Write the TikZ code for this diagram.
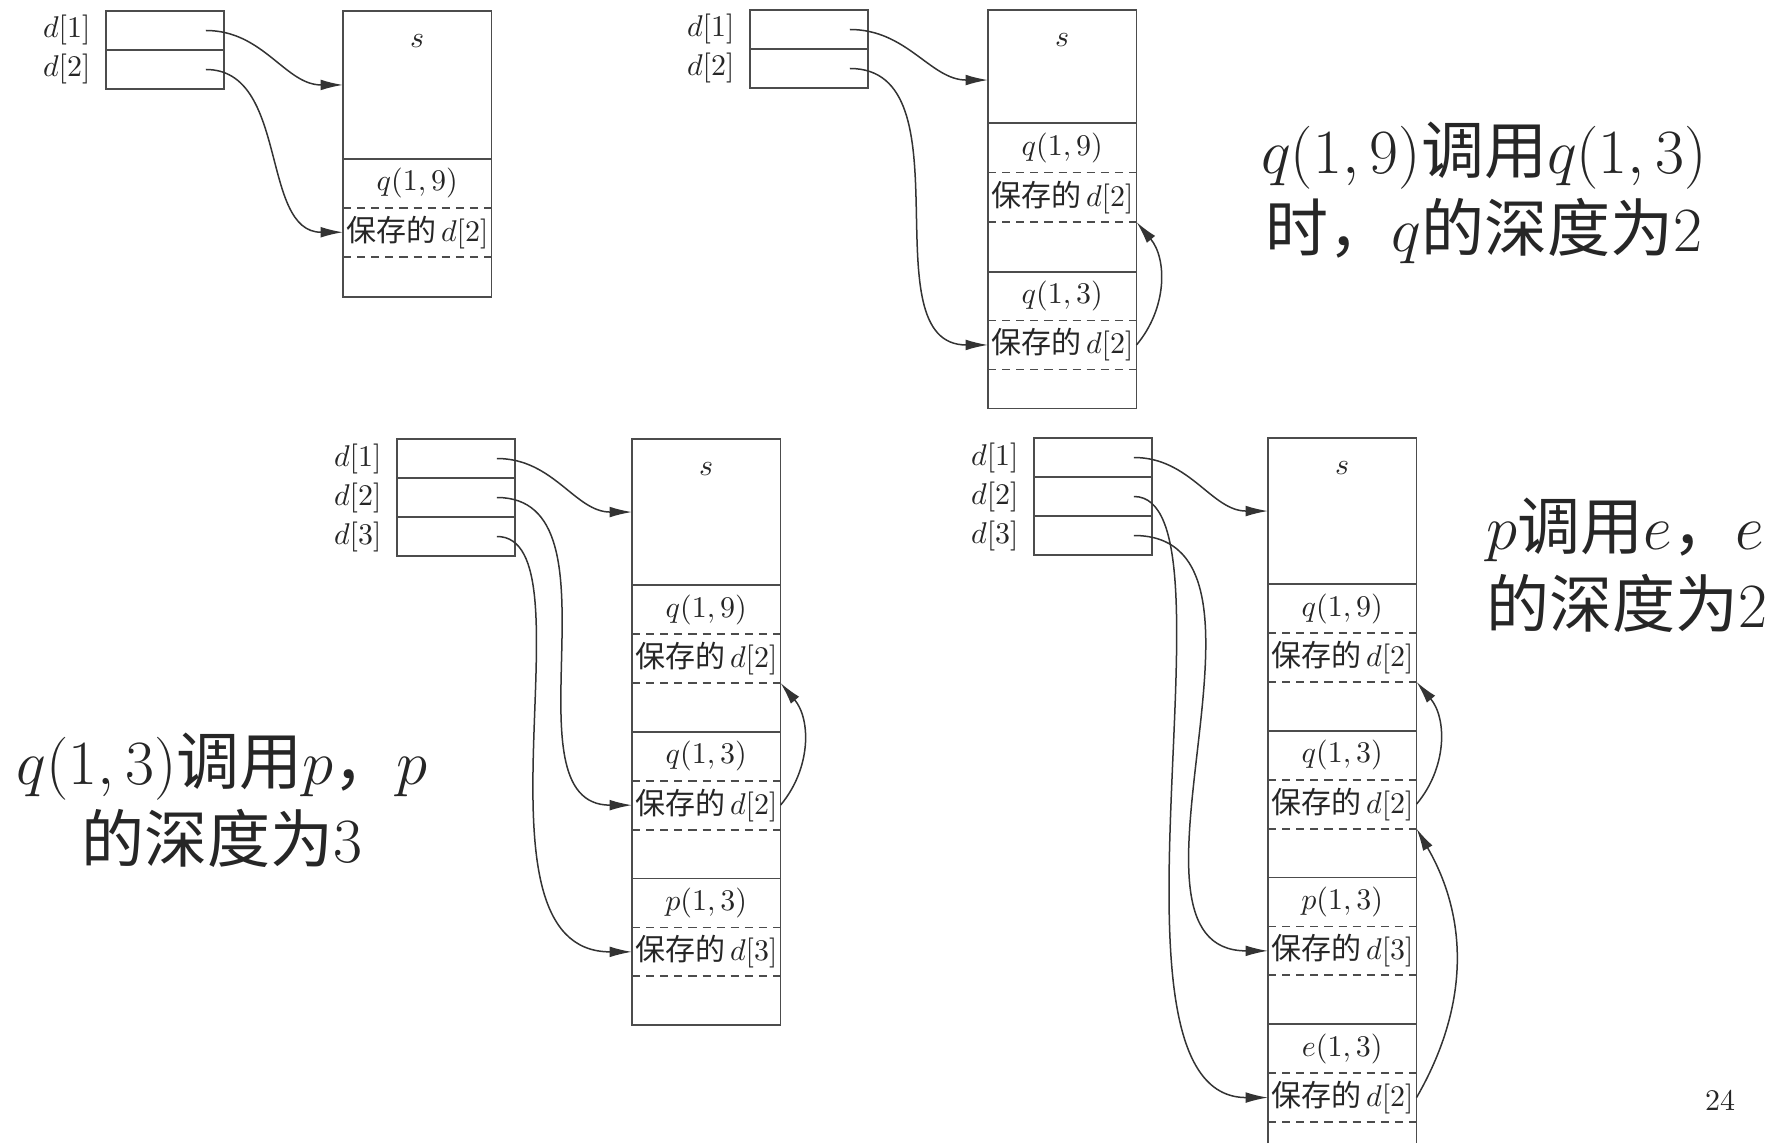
\RequirePackage{fix-cm}
\documentclass[tikz,border=0pt]{standalone}
\usepackage{fontspec}
\newfontfamily\cjk{Noto Sans CJK SC}
\usetikzlibrary{arrows.meta,positioning}

\begin{document}
\begin{tikzpicture}[
  x=0.333333pt, y=-0.333333pt,
  dcell/.style={draw=black!70, line width=0.6pt, minimum width=39.3pt, minimum height=13pt, inner sep=0pt, outer sep=0pt},
  dlab/.style={inner sep=0pt, text=black!85},
  cell/.style={minimum width=49.5pt, minimum height=16.3pt, inner sep=0pt, outer sep=0pt, text=black!85},
  sreg/.style={cell, minimum height=48.7pt, label={[anchor=north, inner sep=0pt, yshift=-7.5pt, text=black!85]north:$s$}},
  rule/.style={draw=black!70, line width=0.6pt},
  sep/.style={draw=black!70, line width=0.6pt, dash pattern=on 2.7pt off 2pt},
  arr/.style={-{Latex[length=7.5pt,width=3.6pt]}, draw=black!80, line width=0.5pt},
  note/.style={font=\fontsize{21}{26}\selectfont, text=black!85, inner sep=0pt}
]
\useasboundingbox (0,0) rectangle (1788,1144);

% first picture: only q(1,9)
\node[dcell, anchor=north west] (a-d1) at (106,11) {};
\node[dcell, below=0pt of a-d1] (a-d2) {};
\node[dlab, left=5pt of a-d1] (a-l1) {$d[1]$};
\node[dlab, left=5pt of a-d2] (a-l2) {$d[2]$};
\node[sreg, minimum height=49.3pt, anchor=north west] (a-s) at (343,11) {};
\node[cell, below=0pt of a-s] (a-q19) {$q(1,9)$};
\node[cell, below=0pt of a-q19] (a-q19-sv) {{\cjk 保存的}\,$d[2]$};
\node[cell, minimum height=13.3pt, below=0pt of a-q19-sv] (a-q19-bl) {};
\draw[rule] (a-s.north west) rectangle (a-q19-bl.south east);
\draw[rule] (a-q19.north west) -- (a-q19.north east);
\draw[sep] (a-q19-sv.north west) -- (a-q19-sv.north east) (a-q19-sv.south west) -- (a-q19-sv.south east);
\draw[arr] ([xshift=-6pt]a-d1.east) to[out=0,in=180] (a-s.west);
\draw[arr] ([xshift=-6pt]a-d2.east) to[out=0,in=180] (a-q19-sv.west);

% second picture: q(1,9) calls q(1,3)
\node[dcell, anchor=north west] (b-d1) at (750,10) {};
\node[dcell, below=0pt of b-d1] (b-d2) {};
\node[dlab, left=5pt of b-d1] (b-l1) {$d[1]$};
\node[dlab, left=5pt of b-d2] (b-l2) {$d[2]$};
\node[sreg, minimum height=37.7pt, anchor=north west] (b-s) at (988,10) {};
\node[cell, minimum height=16.5pt, below=0pt of b-s] (b-q19) {$q(1,9)$};
\node[cell, minimum height=16.5pt, below=0pt of b-q19] (b-q19-sv) {{\cjk 保存的}\,$d[2]$};
\node[cell, minimum height=16.5pt, below=0pt of b-q19-sv] (b-q19-bl) {};
\node[cell, below=0pt of b-q19-bl] (b-q13) {$q(1,3)$};
\node[cell, below=0pt of b-q13] (b-q13-sv) {{\cjk 保存的}\,$d[2]$};
\node[cell, minimum height=13pt, below=0pt of b-q13-sv] (b-q13-bl) {};
\draw[rule] (b-s.north west) rectangle (b-q13-bl.south east);
\draw[rule] (b-q19.north west) -- (b-q19.north east);
\draw[rule] (b-q13.north west) -- (b-q13.north east);
\draw[sep] (b-q19-sv.north west) -- (b-q19-sv.north east) (b-q19-sv.south west) -- (b-q19-sv.south east);
\draw[sep] (b-q13-sv.north west) -- (b-q13-sv.north east) (b-q13-sv.south west) -- (b-q13-sv.south east);
\draw[arr] ([xshift=-6pt]b-d1.east) to[out=0,in=180] ([yshift=-4.5pt]b-s.west);
\draw[arr] ([xshift=-6pt]b-d2.east) to[out=0,in=180] (b-q13-sv.west);
\draw[arr] (b-q13-sv.east) to[out=50,in=-50] (b-q19-sv.south east);

% third picture: q(1,3) calls p(1,3)
\node[dcell, anchor=north west] (c-d1) at (397,439) {};
\node[dcell, below=0pt of c-d1] (c-d2) {};
\node[dcell, below=0pt of c-d2] (c-d3) {};
\node[dlab, left=5pt of c-d1] (c-l1) {$d[1]$};
\node[dlab, left=5pt of c-d2] (c-l2) {$d[2]$};
\node[dlab, left=5pt of c-d3] (c-l3) {$d[3]$};
\node[sreg, anchor=north west] (c-s) at (632,439) {};
\node[cell, below=0pt of c-s] (c-q19) {$q(1,9)$};
\node[cell, below=0pt of c-q19] (c-q19-sv) {{\cjk 保存的}\,$d[2]$};
\node[cell, below=0pt of c-q19-sv] (c-q19-bl) {};
\node[cell, below=0pt of c-q19-bl] (c-q13) {$q(1,3)$};
\node[cell, below=0pt of c-q13] (c-q13-sv) {{\cjk 保存的}\,$d[2]$};
\node[cell, below=0pt of c-q13-sv] (c-q13-bl) {};
\node[cell, below=0pt of c-q13-bl] (c-p13) {$p(1,3)$};
\node[cell, below=0pt of c-p13] (c-p13-sv) {{\cjk 保存的}\,$d[3]$};
\node[cell, below=0pt of c-p13-sv] (c-p13-bl) {};
\draw[rule] (c-s.north west) rectangle (c-p13-bl.south east);
\draw[rule] (c-q19.north west) -- (c-q19.north east);
\draw[rule] (c-q13.north west) -- (c-q13.north east);
\draw[rule] (c-p13.north west) -- (c-p13.north east);
\draw[sep] (c-q19-sv.north west) -- (c-q19-sv.north east) (c-q19-sv.south west) -- (c-q19-sv.south east);
\draw[sep] (c-q13-sv.north west) -- (c-q13-sv.north east) (c-q13-sv.south west) -- (c-q13-sv.south east);
\draw[sep] (c-p13-sv.north west) -- (c-p13-sv.north east) (c-p13-sv.south west) -- (c-p13-sv.south east);
\draw[arr] ([xshift=-6pt]c-d1.east) to[out=0,in=180] (c-s.west);
\draw[arr] ([xshift=-6pt]c-d2.east) to[out=0,in=180] (c-q13-sv.west);
\draw[arr] ([xshift=-6pt]c-d3.east) .. controls +(0:33pt) and +(180:58pt) .. (c-p13-sv.west);
\draw[arr] (c-q13-sv.east) to[out=50,in=-50] (c-q19-sv.south east);

% fourth picture: p(1,3) calls e(1,3)
\node[dcell, anchor=north west] (d-d1) at (1034,438) {};
\node[dcell, below=0pt of d-d1] (d-d2) {};
\node[dcell, below=0pt of d-d2] (d-d3) {};
\node[dlab, left=5pt of d-d1] (d-l1) {$d[1]$};
\node[dlab, left=5pt of d-d2] (d-l2) {$d[2]$};
\node[dlab, left=5pt of d-d3] (d-l3) {$d[3]$};
\node[sreg, anchor=north west] (d-s) at (1268,438) {};
\node[cell, below=0pt of d-s] (d-q19) {$q(1,9)$};
\node[cell, below=0pt of d-q19] (d-q19-sv) {{\cjk 保存的}\,$d[2]$};
\node[cell, below=0pt of d-q19-sv] (d-q19-bl) {};
\node[cell, below=0pt of d-q19-bl] (d-q13) {$q(1,3)$};
\node[cell, below=0pt of d-q13] (d-q13-sv) {{\cjk 保存的}\,$d[2]$};
\node[cell, below=0pt of d-q13-sv] (d-q13-bl) {};
\node[cell, below=0pt of d-q13-bl] (d-p13) {$p(1,3)$};
\node[cell, below=0pt of d-p13] (d-p13-sv) {{\cjk 保存的}\,$d[3]$};
\node[cell, below=0pt of d-p13-sv] (d-p13-bl) {};
\node[cell, below=0pt of d-p13-bl] (d-e13) {$e(1,3)$};
\node[cell, below=0pt of d-e13] (d-e13-sv) {{\cjk 保存的}\,$d[2]$};
\node[cell, minimum height=7pt, below=0pt of d-e13-sv] (d-e13-bl) {};
\draw[rule] (d-e13-bl.south west) -- (d-s.north west) -- (d-s.north east) -- (d-e13-bl.south east);
\draw[rule] (d-q19.north west) -- (d-q19.north east);
\draw[rule] (d-q13.north west) -- (d-q13.north east);
\draw[rule] (d-p13.north west) -- (d-p13.north east);
\draw[rule] (d-e13.north west) -- (d-e13.north east);
\draw[sep] (d-q19-sv.north west) -- (d-q19-sv.north east) (d-q19-sv.south west) -- (d-q19-sv.south east);
\draw[sep] (d-q13-sv.north west) -- (d-q13-sv.north east) (d-q13-sv.south west) -- (d-q13-sv.south east);
\draw[sep] (d-p13-sv.north west) -- (d-p13-sv.north east) (d-p13-sv.south west) -- (d-p13-sv.south east);
\draw[sep] (d-e13-sv.north west) -- (d-e13-sv.north east) (d-e13-sv.south west) -- (d-e13-sv.south east);
\draw[arr] ([xshift=-6pt]d-d1.east) to[out=0,in=180] (d-s.west);
\draw[arr] ([xshift=-6pt]d-d2.east) .. controls +(0:37pt) and +(180:61pt) .. (d-e13-sv.west);
\draw[arr] ([xshift=-6pt]d-d3.east) to[out=0,in=180] (d-p13-sv.west);
\draw[arr] (d-q13-sv.east) to[out=50,in=-50] (d-q19-sv.south east);
\draw[arr] (d-e13-sv.east) to[out=60,in=-60] (d-q13-sv.south east);

% remarks
\node[note, align=center] (n-top) at (1484,193) {$q(1, 9)${\cjk 调用}$q(1, 3)$\\{\cjk 时，}$q${\cjk 的深度为}2};
\node[note, align=center] (n-left) at (222,800) {$q(1, 3)${\cjk 调用}$p${\cjk ，}$p$\\{\cjk 的深度为}3};
\node[note, align=left, anchor=west] (n-right) at (1486,565) {$p${\cjk 调用}$e${\cjk ，}$e$\\{\cjk 的深度为}2};
\node[text=black!85] (pg) at (1720,1100) {24};
\end{tikzpicture}
\end{document}
